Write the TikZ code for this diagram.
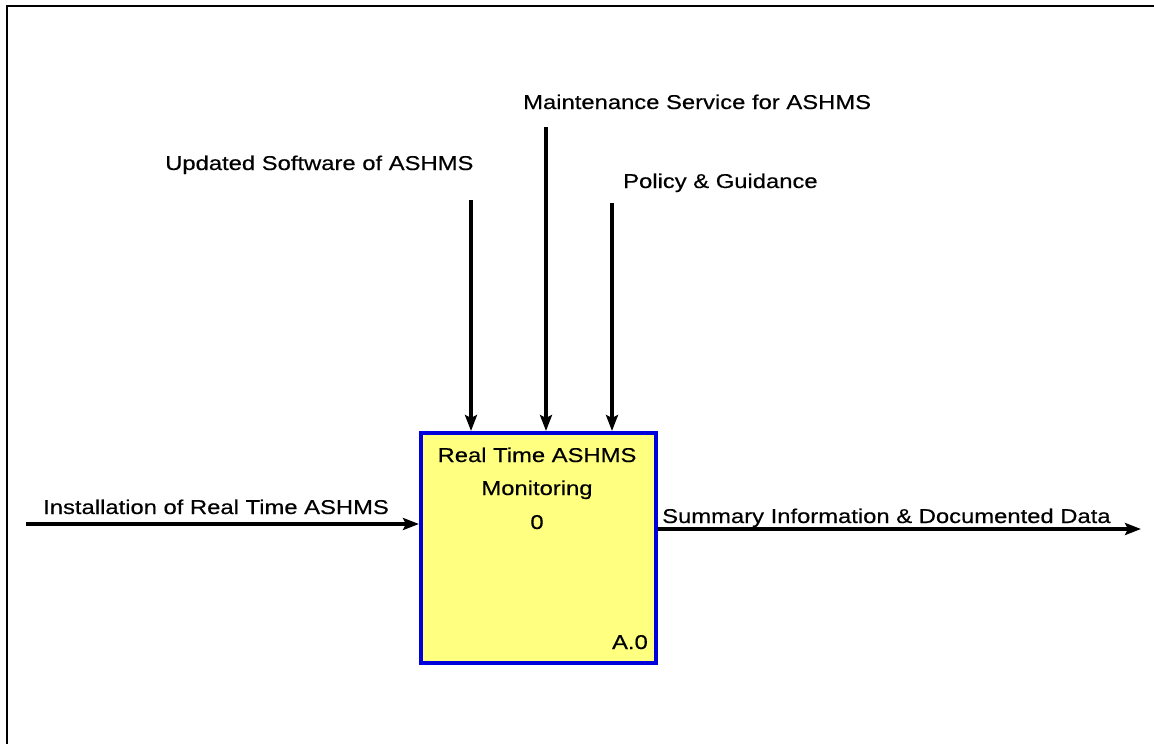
\documentclass[tikz,border=0pt]{standalone}
\usepackage{fontspec}
\setmainfont[FakeStretch=1.19,FakeBold=0.4]{Liberation Sans}
\usetikzlibrary{arrows.meta}
\definecolor{boxfill}{RGB}{255,255,128}
\definecolor{boxline}{RGB}{0,0,220}
\begin{document}
\begin{tikzpicture}[x=1pt,y=-1pt,
  lbl/.style={inner sep=0pt,font=\fontsize{20}{24}\selectfont},
  arr/.style={line width=3.6pt,-{Stealth[length=16pt,width=12pt,inset=3pt]}},
  actbox/.style={draw=boxline,fill=boxfill,line width=3.5pt,minimum width=235pt,minimum height=230pt,inner sep=0pt}]
\useasboundingbox (0,0) rectangle (1154,744);
\fill[white] (0,0) rectangle (1154,744);
\draw[line width=2.8pt] (7,744) -- (7,6) -- (1154,6);
% box
\node[actbox,anchor=north west] (box) at (419,431) {};
\node[lbl,anchor=base] (t1) at (537,462) {Real Time ASHMS};
\node[lbl,anchor=base] (t2) at (537,495) {Monitoring};
\node[lbl,anchor=base] (t3) at (537,529) {0};
\node[lbl,anchor=base east] (ref) at (648,649) {A.0};
% labels
\node[lbl,anchor=base west] (lu) at (165,170) {Updated Software of ASHMS};
\node[lbl,anchor=base west] (lm) at (523,109) {Maintenance Service for ASHMS};
\node[lbl,anchor=base west] (lp) at (623,188) {Policy \& Guidance};
\node[lbl,anchor=base west] (li) at (43,514) {Installation of Real Time ASHMS};
\node[lbl,anchor=base west] (lo) at (662,523) {Summary Information \& Documented Data};
% connector ends
\coordinate (u0) at (471,200);
\coordinate (m0) at (546,127);
\coordinate (p0) at (612,203);
\coordinate (i0) at (26,524);
\coordinate (o0) at (1141,529);
\draw[arr] (u0) -- (u0 |- box.north);
\draw[arr] (m0) -- (m0 |- box.north);
\draw[arr] (p0) -- (p0 |- box.north);
\draw[arr] (i0) -- (box.west |- i0);
\draw[arr] (box.east |- o0) -- (o0);
\end{tikzpicture}
\end{document}
